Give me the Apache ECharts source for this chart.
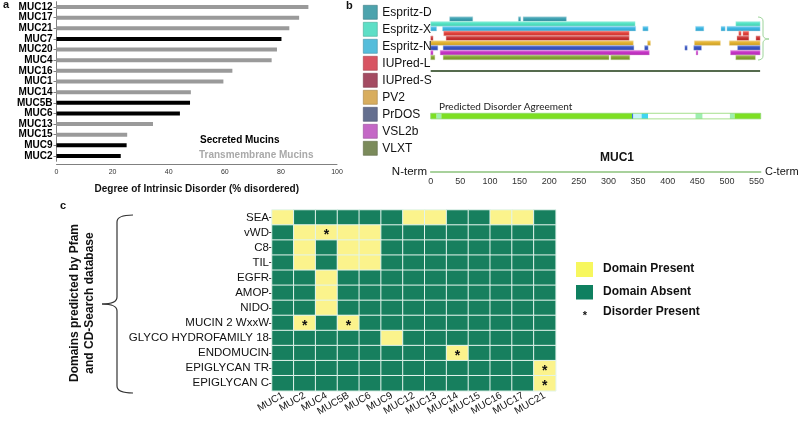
<!DOCTYPE html>
<html><head><meta charset="utf-8">
<script src="https://cdn.jsdelivr.net/npm/echarts@6/dist/echarts.min.js"></script>
<style>html,body{margin:0;padding:0;background:#fff}#c{width:800px;height:421px}</style>
</head><body><div id="c"></div>
<script>
const FONT = '"Liberation Sans", Arial, Helvetica, sans-serif';

// ---------- Panel a: degree of intrinsic disorder ----------
const mucinNames = ['MUC12','MUC17','MUC21','MUC7','MUC20','MUC4','MUC16','MUC1','MUC14','MUC5B','MUC6','MUC13','MUC15','MUC9','MUC2'];
const disorderPct = [89.8, 86.5, 83.0, 80.2, 78.6, 76.7, 62.7, 59.5, 47.9, 47.6, 44.0, 34.4, 25.2, 25.0, 22.9];
const mucinType   = ['T','T','T','S','T','T','T','T','T','S','S','T','T','S','S']; // S secreted, T transmembrane
const xTicksA = [0, 20, 40, 60, 80, 100];

// ---------- Panel b: MUC1 disorder predictions (residue ranges) ----------
const trackMethods = ['Espritz-D','Espritz-X','Espritz-N','IUPred-L','IUPred-S','PV2','PrDOS','VSL2b','VLXT'];
const segEspritzD = [[32,71],[148,152],[156,229]];
const segEspritzX = [[0,345],[515,556]];
const segEspritzN = [[0,10],[20,346],[358,367],[447,461],[490,497],[500,556]];
const segIUPredL  = [[22,335],[520,524],[527,537]];
const segIUPredS  = [[0,4],[26,335],[517,537],[549,556]];
const segPV2      = [[0,342],[366,371],[445,489],[504,556]];
const segPrDOS    = [[0,12],[21,343],[361,367],[429,433],[444,457],[518,556]];
const segVSL2b    = [[0,4],[16,369],[448,451],[506,556]];
const segVLXT     = [[0,7],[21,301],[304,336],[515,548]];
const muc1Length  = 557;
// agreement: [start, end, fraction of predictors agreeing]
const agreementSegs = [[0,10,1],[10,18,0.8],[18,340,1],[340,342,0.45],[342,356,0.2],[356,367,0.55],[367,447,0],[447,459,0.8],[459,505,0],[505,513,0.8],[513,557,1]];
const residueTicks = [0,50,100,150,200,250,300,350,400,450,500,550];

// ---------- Panel c: domains ----------
const heatCols = ['MUC1','MUC2','MUC4','MUC5B','MUC6','MUC9','MUC12','MUC13','MUC14','MUC15','MUC16','MUC17','MUC21'];
const domainRows = ['SEA','vWD','C8','TIL','EGFR','AMOP','NIDO','MUCIN 2 WxxW','GLYCO HYDROFAMILY 18','ENDOMUCIN','EPIGLYCAN TR','EPIGLYCAN C'];
const domainPresence = [
  [1,0,0,0,0,0,1,1,0,0,1,1,0],
  [0,1,1,1,1,0,0,0,0,0,0,0,0],
  [0,1,0,1,1,0,0,0,0,0,0,0,0],
  [0,1,0,1,1,0,0,0,0,0,0,0,0],
  [0,0,1,0,0,0,0,0,0,0,0,0,0],
  [0,0,1,0,0,0,0,0,0,0,0,0,0],
  [0,0,1,0,0,0,0,0,0,0,0,0,0],
  [0,1,0,1,0,0,0,0,0,0,0,0,0],
  [0,0,0,0,0,1,0,0,0,0,0,0,0],
  [0,0,0,0,0,0,0,0,1,0,0,0,0],
  [0,0,0,0,0,0,0,0,0,0,0,0,1],
  [0,0,0,0,0,0,0,0,0,0,0,0,1]
];
const disorderCells = [['vWD','MUC4'],['MUCIN 2 WxxW','MUC2'],['MUCIN 2 WxxW','MUC5B'],['ENDOMUCIN','MUC14'],['EPIGLYCAN TR','MUC21'],['EPIGLYCAN C','MUC21']];

// ---------- styling ----------
const trackColors  = ['#3a9fb0','#52e3c4','#3cb6e3','#e2403a','#c8302f','#e2b12e','#3553c2','#c634c6','#84a532'];
const legendColors = ['#4da3ad','#5ddfc6','#55bddb','#d85462','#a44b62','#d8ad5e','#656f8f','#c468c6','#7b8b5b'];
const GREEN = '#177f5e', YELLOW = '#fbf38c';
const LANE_TOP = 2.95, LANE_STEP = 3, LANE_H = 2.9;

function mix(hex, w, t) {
  const n = parseInt(hex.slice(1), 16);
  const r = n >> 16, g = (n >> 8) & 255, b = n & 255;
  const f = c => Math.round(c + (w - c) * t);
  return 'rgb(' + f(r) + ',' + f(g) + ',' + f(b) + ')';
}
function agreementColor(v) {
  if (v >= 0.95) return '#7ddf22';
  if (v >= 0.75) return '#9eefb0';
  if (v >= 0.5) return '#3fd6f0';
  if (v >= 0.4) return '#1f5fe0';
  if (v >= 0.1) return '#c8f4fb';
  return '#ffffff';
}
function rectRender(yTop, yBot, fillFn) {
  return function (params, api) {
    const p0 = api.coord([api.value(0), yTop]);
    const p1 = api.coord([api.value(1), yBot]);
    return { type: 'rect', shape: { x: p0[0], y: p0[1], width: p1[0] - p0[0], height: p1[1] - p0[1] },
             style: fillFn(api) };
  };
}

const trackSegs = [segEspritzD, segEspritzX, segEspritzN, segIUPredL, segIUPredS, segPV2, segPrDOS, segVSL2b, segVLXT];

const series = [];
series.push({ type: 'bar', name: 'Secreted Mucins', xAxisIndex: 0, yAxisIndex: 0,
  data: disorderPct.map((v, i) => mucinType[i] === 'S' ? v : null), barWidth: 4, barGap: '-100%',
  itemStyle: { color: '#000' }, silent: true });
series.push({ type: 'bar', name: 'Transmembrane Mucins', xAxisIndex: 0, yAxisIndex: 0,
  data: disorderPct.map((v, i) => mucinType[i] === 'T' ? v : null), barWidth: 4, barGap: '-100%',
  itemStyle: { color: '#9a9a9a' }, silent: true });

trackMethods.forEach((m, i) => {
  const c = trackColors[i];
  const top = LANE_TOP + LANE_STEP * i;
  series.push({ type: 'custom', name: m, xAxisIndex: 1, yAxisIndex: 1, data: trackSegs[i], color: c, silent: true,
    renderItem: rectRender(top, top + LANE_H, () => ({
      fill: { type: 'linear', x: 0, y: 0, x2: 0, y2: 1,
        colorStops: [{ offset: 0, color: mix(c, 255, 0.35) }, { offset: 0.45, color: c }, { offset: 1, color: mix(c, 0, 0.12) }] },
      stroke: mix(c, 255, 0.55), lineWidth: 0.4 })) });
});
// base line under the predictor tracks
series.push({ type: 'custom', name: 'sequence', xAxisIndex: 1, yAxisIndex: 1, data: [[0, muc1Length - 1]], silent: true,
  renderItem: rectRender(36.4, 37.3, () => ({ fill: '#1d3a12' })) });
// predicted disorder agreement bar
series.push({ type: 'custom', name: 'agreement', xAxisIndex: 1, yAxisIndex: 1, data: agreementSegs, silent: true,
  renderItem: rectRender(63.3, 66.8, api => ({ fill: agreementColor(api.value(2)) })) });
series.push({ type: 'custom', name: 'agreementOutline', xAxisIndex: 1, yAxisIndex: 1, data: [[0, muc1Length]], silent: true,
  renderItem: rectRender(63.3, 66.8, () => ({ fill: 'none', stroke: '#8fd870', lineWidth: 0.8 })) });

const heatData = [];
domainRows.forEach((row, r) => domainPresence[r].forEach((v, c) => {
  const dis = disorderCells.some(([rn, cn]) => rn === row && cn === heatCols[c]);
  heatData.push({ value: [c, r, v], label: { show: dis } });
}));
const heatIndex = series.length;
series.push({ type: 'heatmap', xAxisIndex: 2, yAxisIndex: 2, data: heatData, silent: true,
  itemStyle: { borderColor: '#e2f4ec', borderWidth: 1 },
  label: { show: false, formatter: '*', fontSize: 14, fontWeight: 'bold', color: '#111', offset: [0, 3] },
  emphasis: { disabled: true } });

const T = (text, x, y, o) => Object.assign({ type: 'text', x: x, y: y, silent: true,
  style: Object.assign({ text: text, fontFamily: FONT, fontSize: 12, fill: '#111', align: 'left', verticalAlign: 'middle' }, o || {}) });
const B = (x1, y1, c1x, c1y, c2x, c2y, x2, y2, col, w) => ({ type: 'bezierCurve', silent: true,
  shape: { x1: x1, y1: y1, cpx1: c1x, cpy1: c1y, cpx2: c2x, cpy2: c2y, x2: x2, y2: y2 }, style: { stroke: col, lineWidth: w, fill: 'none' } });
const L = (x1, y1, x2, y2, col, w) => ({ type: 'line', silent: true, shape: { x1: x1, y1: y1, x2: x2, y2: y2 }, style: { stroke: col, lineWidth: w } });

const bc = '#9ed49a';
const cc = '#333';
const graphic = [
  T('a', 3, 5, { fontWeight: 'bold', fontSize: 11 }),
  T('b', 346, 6, { fontWeight: 'bold', fontSize: 11 }),
  T('c', 60, 206, { fontWeight: 'bold', fontSize: 11 }),
  T('Secreted Mucins', 200, 140, { fontWeight: 'bold', fontSize: 10, fill: '#000' }),
  T('Transmembrane Mucins', 199, 155, { fontWeight: 'bold', fontSize: 10, fill: '#a9a9a9' }),
  T('Predicted Disorder Agreement', 439, 107, { fontSize: 10, fontFamily: 'Lato, "Open Sans", sans-serif', fill: '#222' }),
  T('MUC1', 617, 158, { fontWeight: 'bold', fontSize: 12, align: 'center', fill: '#111' }),
  T('N-term', 427, 172, { align: 'right', fontSize: 11.5 }),
  T('C-term', 765, 172, { fontSize: 11 }),
  // brace b
  B(758, 17, 761, 17, 763, 18.5, 763, 21, bc, 1), L(763, 21, 763, 35, bc, 1),
  B(763, 35, 763, 38, 766, 39, 769, 39, bc, 1), B(769, 39, 766, 39, 763, 40, 763, 43, bc, 1),
  L(763, 43, 763, 56, bc, 1), B(763, 56, 763, 58.5, 761, 60, 758, 60, bc, 1),
  // brace c
  B(133, 215, 123, 215, 117, 217, 117, 222, cc, 1.2), L(117, 222, 117, 297, cc, 1.2),
  B(117, 297, 117, 302, 110, 304, 102, 304, cc, 1.2), B(102, 304, 110, 304, 117, 306, 117, 311, cc, 1.2),
  L(117, 311, 117, 386, cc, 1.2), B(117, 386, 117, 391, 123, 393, 133, 393, cc, 1.2),
  Object.assign(T('Domains predicted by Pfam\nand CD-Search database', 82.5, 303,
    { fontWeight: 'bold', fontSize: 12, align: 'center', lineHeight: 15, fill: '#111' }), { rotation: Math.PI / 2 }),
  // legend c
  { type: 'rect', silent: true, shape: { x: 576, y: 262, width: 17, height: 15 }, style: { fill: '#f7f75e' } },
  { type: 'rect', silent: true, shape: { x: 576, y: 285, width: 17, height: 14.5 }, style: { fill: '#0f8060' } },
  T('*', 585, 316, { fontWeight: 'bold', fontSize: 11, align: 'center' }),
  T('Domain Present', 603, 269, { fontWeight: 'bold', fontSize: 12 }),
  T('Domain Absent', 603, 291.5, { fontWeight: 'bold', fontSize: 12 }),
  T('Disorder Present', 603, 311.5, { fontWeight: 'bold', fontSize: 12 })
];

const option = {
  animation: false,
  textStyle: { fontFamily: FONT },
  grid: [
    { left: 56.5, top: 1.7, width: 280.5, height: 159.6, containLabel: false, outerBoundsMode: 'none' },
    { left: 430.7, top: 12, width: 330, height: 160, containLabel: false, outerBoundsMode: 'none' },
    { left: 272, top: 210, width: 283.7, height: 180.8, containLabel: false, outerBoundsMode: 'none' }
  ],
  xAxis: [
    { gridIndex: 0, type: 'value', min: xTicksA[0], max: xTicksA[xTicksA.length - 1], interval: xTicksA[1] - xTicksA[0], offset: 2.7,
      axisLine: { show: true, onZero: false, lineStyle: { color: '#808080', width: 1 } }, axisTick: { show: false }, splitLine: { show: false },
      axisLabel: { fontSize: 7, color: '#333', margin: 5, fontFamily: FONT },
      name: 'Degree of Intrinsic Disorder (% disordered)', nameLocation: 'middle', nameGap: 20,
      nameTextStyle: { fontSize: 10, fontWeight: 'bold', color: '#111', fontFamily: FONT } },
    { gridIndex: 1, type: 'value', min: 0, max: muc1Length, interval: residueTicks[1] - residueTicks[0], position: 'bottom',
      axisLine: { show: true, onZero: false, lineStyle: { color: '#8cc27c', width: 1.5 } }, axisTick: { show: false }, splitLine: { show: false },
      axisLabel: { fontSize: 9, color: '#333', margin: 5, fontFamily: FONT, showMaxLabel: true,
        formatter: v => residueTicks.indexOf(v) >= 0 ? String(v) : '' } },
    { gridIndex: 2, type: 'category', data: heatCols, axisLine: { show: false, onZero: false }, axisTick: { show: false }, splitLine: { show: false },
      axisLabel: { interval: 0, rotate: 30, fontSize: 10, color: '#111', margin: 4, fontFamily: FONT } }
  ],
  yAxis: [
    { gridIndex: 0, type: 'category', data: mucinNames, inverse: true,
      axisLine: { show: true, onZero: false, lineStyle: { color: '#808080' } },
      axisTick: { show: true, alignWithLabel: true, length: 3, lineStyle: { color: '#808080' } },
      axisLabel: { interval: 0, fontSize: 10, fontWeight: 'bold', color: '#000', margin: 4, fontFamily: FONT } },
    { gridIndex: 1, type: 'value', min: 0, max: 100, inverse: true, show: false },
    { gridIndex: 2, type: 'category', data: domainRows, inverse: true, axisLine: { show: false, onZero: false },
      axisTick: { show: true, alignWithLabel: true, length: 3, lineStyle: { color: '#444' } }, splitLine: { show: false },
      axisLabel: { interval: 0, fontSize: 11.5, color: '#111', margin: 3, fontFamily: FONT } }
  ],
  legend: [{
    orient: 'vertical', left: 363, top: 5, itemWidth: 14, itemHeight: 14, itemGap: 2.4, padding: 0, icon: 'rect',
    selectedMode: false,
    data: trackMethods.map((m, i) => ({ name: m, itemStyle: { color: legendColors[i], borderColor: mix(legendColors[i], 0, 0.25), borderWidth: 0.6 } })),
    textStyle: { fontSize: 12, color: '#111', fontFamily: FONT }
  }],
  visualMap: [{ show: false, type: 'piecewise', seriesIndex: heatIndex, dimension: 2,
    pieces: [{ value: 0, color: GREEN }, { value: 1, color: YELLOW }] }],
  tooltip: { show: false },
  series: series,
  graphic: graphic
};
const chart = echarts.init(document.getElementById('c'), null, { renderer: 'canvas' });
chart.setOption(option);
</script></body></html>
